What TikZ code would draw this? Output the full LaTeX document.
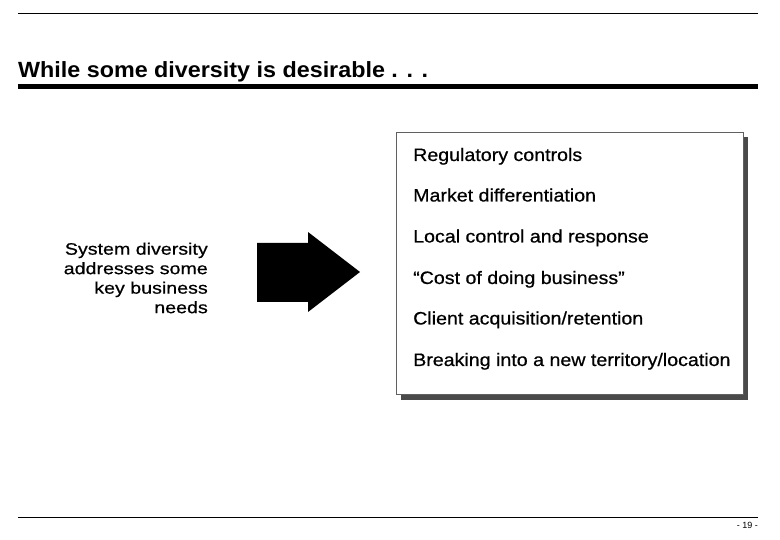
\documentclass[tikz,border=0pt]{standalone}
\usepackage{fontspec}
\setmainfont{Liberation Sans}
\newfontfamily\titlefam[FakeStretch=1.06]{Liberation Sans}
\newfontfamily\listfam[FakeStretch=1.09,FakeBold=0.6]{Liberation Sans}
\newfontfamily\leftfam[FakeStretch=1.19,FakeBold=0.6]{Liberation Sans}
\definecolor{shadowgray}{HTML}{4A4A4A}
\definecolor{framegray}{HTML}{606060}
\tikzset{
  rule/.style={line width=1pt, black},
  thickrule/.style={line width=5pt, black},
  listitem/.style={anchor=base west, inner sep=0pt, font=\listfam\fontsize{18}{22}\selectfont},
  blockarrow/.style={fill=black, draw=none},
}
\begin{document}
\begin{tikzpicture}[x=1pt,y=-1pt]
\useasboundingbox (0,0) rectangle (780,540);
\fill[white] (0,0) rectangle (780,540);
% top rule
\coordinate (tl) at (18,14);
\coordinate (tr) at (758,14);
\draw[rule] (tl) -- (tr);
% title
\node[anchor=base west, inner sep=0pt, font=\titlefam\bfseries\fontsize{22}{26}\selectfont] (title) at (18,78) {While some diversity is desirable . . .};
\coordinate (hl) at (18,86.5);
\coordinate (hr) at (758,86.5);
\draw[thickrule] (hl) -- (hr);
% box with shadow
\fill[shadowgray] (401,137) rectangle (748,399.5);
\draw[framegray, line width=0.8pt, fill=white] (396,132) rectangle (743,394.5);
\node[listitem] (i1) at (413,161) {Regulatory controls};
\node[listitem] (i2) at (413,201.5) {Market differentiation};
\node[listitem] (i3) at (413,242.5) {Local control and response};
\node[listitem] (i4) at (413,284) {“Cost of doing business”};
\node[listitem] (i5) at (413,324.5) {Client acquisition/retention};
\node[listitem] (i6) at (413,366) {Breaking into a new territory/location};
% left text
\node[anchor=north east, inner sep=0pt, align=right, font=\leftfam\fontsize{16.5}{19.5}\selectfont] (lefttext) at (208,242.5) {System diversity\\addresses some\\key business\\needs};
% block arrow
\path[blockarrow] (257,243) -- (308,243) -- (308,232) -- (360,272) -- (308,312) -- (308,302) -- (257,302) -- cycle;
% bottom rule and page number
\coordinate (bl) at (18,517);
\coordinate (br) at (758,517);
\draw[rule] (bl) -- (br);
\node[anchor=base east, inner sep=0pt, font=\fontsize{9}{11}\selectfont] (pagenum) at (758,528) {- 19 -};
\end{tikzpicture}
\end{document}
